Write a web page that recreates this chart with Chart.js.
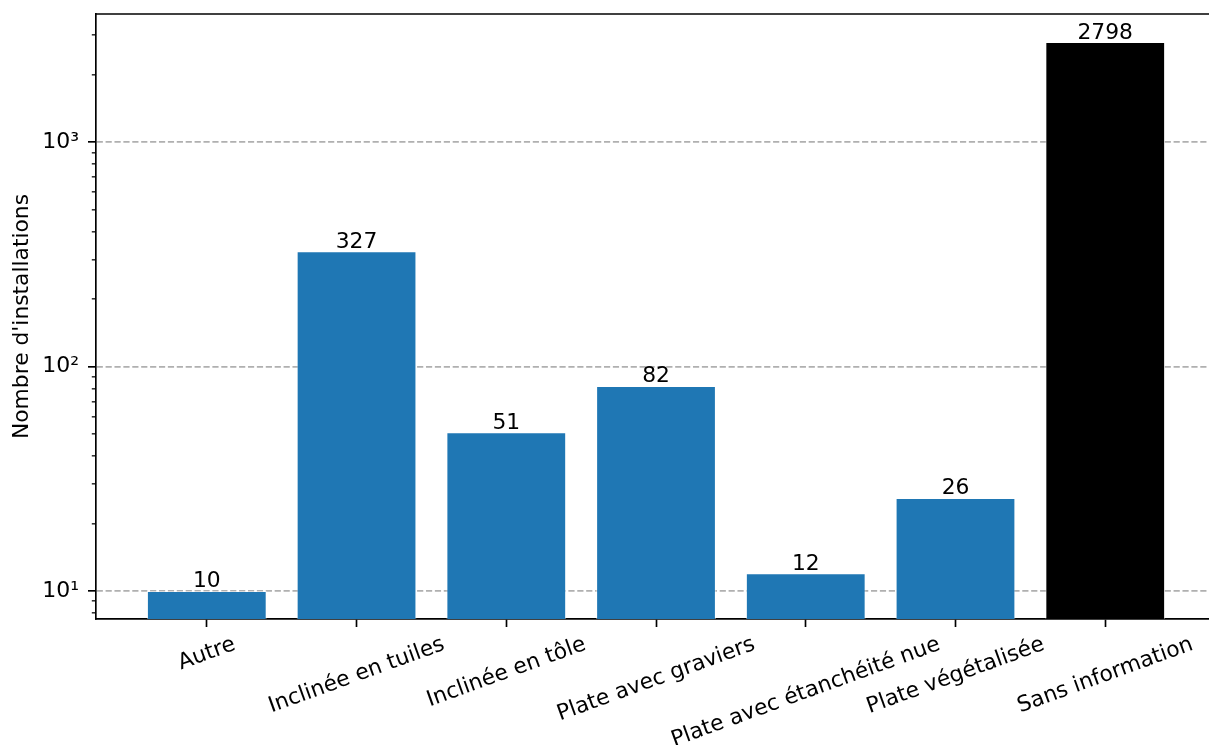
<!DOCTYPE html>
<html>
<head>
<meta charset="utf-8">
<script src="https://cdn.jsdelivr.net/npm/chart.js@4.4.0/dist/chart.umd.min.js"></script>
<style>
  html, body { margin: 0; padding: 0; background: #fff; overflow: hidden; }
</style>
</head>
<body>
<canvas id="roofChart" width="1209" height="745"></canvas>
<script>
// roof types and number of installations
const categories = [
    'Autre',
    'Inclinée en tuiles',
    'Inclinée en tôle',
    'Plate avec graviers',
    'Plate avec étanchéité nue',
    'Plate végétalisée',
    'Sans information'
];
const counts = [10, 327, 51, 82, 12, 26, 2798];
const barColors = ['#1f77b4', '#1f77b4', '#1f77b4', '#1f77b4', '#1f77b4', '#1f77b4', '#000000'];

// log axis ticks
const majorTicks = [10, 100, 1000];
const minorTicks = [8, 9, 20, 30, 40, 50, 60, 70, 80, 90, 200, 300, 400, 500, 600, 700, 800, 900, 2000, 3000];
const yMin = 7.5;
const yMax = 3733;

const FONT = 'DejaVu Sans';
const FS = 21.8;
const SUP = { '0': '⁰', '1': '¹', '2': '²', '3': '³', '4': '⁴', '5': '⁵', '6': '⁶', '7': '⁷', '8': '⁸', '9': '⁹' };

function powLabel(v) {
    const e = String(Math.round(Math.log10(v)));
    return '10' + e.split('').map(c => SUP[c]).join('');
}

function isMajor(c) {
    return c.tick && c.tick.major;
}

function noPadding(s) {
    s.paddingTop = 0;
    s.paddingBottom = 0;
    s.paddingLeft = 0;
    s.paddingRight = 0;
}

// top spine, value labels and rotated category labels
const decorations = {
    id: 'decorations',
    afterDraw(chart) {
        const { ctx, chartArea, scales } = chart;
        ctx.save();
        ctx.strokeStyle = '#000';
        ctx.lineWidth = 1.67;
        ctx.beginPath();
        ctx.moveTo(chartArea.left - 0.83, chartArea.top);
        ctx.lineTo(chartArea.right, chartArea.top);
        ctx.stroke();

        ctx.fillStyle = '#000';
        ctx.font = FS + 'px "' + FONT + '"';
        ctx.textAlign = 'center';
        ctx.textBaseline = 'alphabetic';
        const meta = chart.getDatasetMeta(0);
        meta.data.forEach((bar, i) => {
            ctx.fillText(String(counts[i]), bar.x, bar.y - 3.5);
        });

        const x = scales.x;
        const ang = 20 * Math.PI / 180;
        const h = 0.968 * FS;
        x.ticks.forEach(t => {
            const label = categories[t.value];
            const w = ctx.measureText(label).width;
            const cx = x.getPixelForValue(t.value);
            const cy = chartArea.bottom + 14.6 + (w * Math.sin(ang) + h * Math.cos(ang)) / 2;
            ctx.save();
            ctx.translate(cx, cy);
            ctx.rotate(-ang);
            ctx.textAlign = 'center';
            ctx.textBaseline = 'alphabetic';
            ctx.fillText(label, 0, 0.276 * FS);
            ctx.restore();
        });
        ctx.restore();
    }
};

const ctx = document.getElementById('roofChart').getContext('2d');
const chart = new Chart(ctx, {
    type: 'bar',
    data: {
        datasets: [{
            data: counts.map((v, i) => ({ x: i, y: v })),
            backgroundColor: barColors,
            borderColor: 'rgba(255,255,255,0.45)',
            borderWidth: 1,
            barPercentage: 1.0,
            categoryPercentage: 0.8
        }]
    },
    options: {
        responsive: false,
        animation: false,
        devicePixelRatio: 1,
        layout: { padding: { top: 14, left: 9, right: 0, bottom: 0 } },
        plugins: {
            legend: { display: false },
            tooltip: { enabled: false }
        },
        scales: {
            x: {
                type: 'linear',
                offset: false,
                min: -0.74,
                max: 6.693,
                z: 1,
                afterBuildTicks: s => { s.ticks = categories.map((c, i) => ({ value: i })); },
                afterFit: s => { s.height = 745 - 619; noPadding(s); },
                grid: {
                    offset: false,
                    drawOnChartArea: false,
                    drawTicks: true,
                    tickLength: 8,
                    tickColor: '#000',
                    tickWidth: 1.67
                },
                border: { display: true, color: '#000', width: 1.67 },
                ticks: { display: false }
            },
            y: {
                type: 'logarithmic',
                min: yMin,
                max: yMax,
                z: 1,
                afterBuildTicks: s => {
                    s.ticks = majorTicks.map(v => ({ value: v, major: true }))
                        .concat(minorTicks.map(v => ({ value: v, major: false })))
                        .sort((a, b) => a.value - b.value);
                },
                afterFit: s => { s.width = 96 - 9; noPadding(s); },
                grid: {
                    color: c => isMajor(c) ? '#b0b0b0' : 'rgba(0,0,0,0)',
                    lineWidth: 1.67,
                    drawTicks: true,
                    tickLength: 8,
                    tickColor: '#000',
                    tickWidth: c => isMajor(c) ? 1.67 : 1.25,
                    tickBorderDash: c => isMajor(c) ? [] : [4, 20],
                    tickBorderDashOffset: c => isMajor(c) ? 0 : 20.2
                },
                border: { display: true, color: '#000', width: 1.67, dash: [6.2, 2.7] },
                ticks: {
                    autoSkip: false,
                    padding: 9,
                    color: '#000',
                    font: { family: FONT, size: 22 },
                    callback: v => majorTicks.includes(v) ? powLabel(v) : ''
                },
                title: {
                    display: true,
                    text: "Nombre d'installations",
                    color: '#000',
                    font: { family: FONT, size: FS },
                    padding: 0
                }
            }
        }
    },
    plugins: [decorations]
});
</script>
</body>
</html>
